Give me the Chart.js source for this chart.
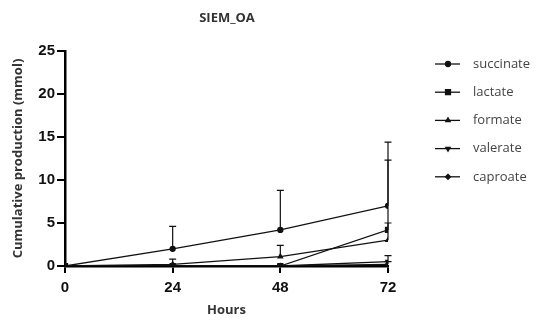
<!DOCTYPE html>
<html>
<head>
<meta charset="utf-8">
<script src="https://cdn.jsdelivr.net/npm/chart.js@4.4.0/dist/chart.umd.min.js"></script>
<style>
  html, body { margin: 0; padding: 0; background: #fff; }
  #wrap { width: 537px; height: 322px; }
</style>
</head>
<body>
<div id="wrap"><canvas id="chart"></canvas></div>
<script>
const hours = [0, 24, 48, 72];
const xTicks = [0, 24, 48, 72];

const succinate = [0, 2.0, 4.2, 7.0];
const succinateErr = [0, 2.6, 4.6, 7.4];
const lactate = [0, 0, 0, 4.2];
const lactateErr = [0, 0, 0, 8.1];
const formate = [0, 0.2, 1.1, 3.0];
const formateErr = [0, 0.6, 1.3, 2.0];
const valerate = [0, 0, 0, 0.5];
const valerateErr = [0, 0, 0, 0.7];
const caproate = [0, 0, 0, 0.2];
const caproateErr = [0, 0, 0, 0.3];

const labels = ['succinate', 'lactate', 'formate', 'valerate', 'caproate'];
const values = [succinate, lactate, formate, valerate, caproate];
const errors = [succinateErr, lactateErr, formateErr, valerateErr, caproateErr];
const styles = ['circle', 'rect', 'triangle', 'triangle', 'rectRot'];
const rotations = [0, 0, 0, 180, 0];

const ink = '#111';

const datasets = labels.map((name, i) => ({
    label: name,
    data: hours.map((h, j) => ({ x: h, y: values[i][j] })),
    errors: errors[i],
    borderColor: ink,
    backgroundColor: ink,
    borderWidth: 1.3,
    pointStyle: styles[i],
    rotation: rotations[i],
    pointRadius: i == 1 ? 3.5 : 2.5,
    tension: 0
}));

// upward error bars with caps
const errorBars = {
    id: 'errorBars',
    afterDatasetsDraw(chart) {
        const { ctx, scales: { x, y } } = chart;
        ctx.save();
        ctx.strokeStyle = ink;
        ctx.lineWidth = 1.2;
        chart.data.datasets.forEach(ds => {
            ds.data.forEach((p, j) => {
                const e = ds.errors[j];
                if (!e) return;
                const px = x.getPixelForValue(p.x);
                const py = y.getPixelForValue(p.y);
                const top = y.getPixelForValue(p.y + e);
                ctx.beginPath();
                ctx.moveTo(px, py);
                ctx.lineTo(px, top);
                ctx.moveTo(px - 3.5, top);
                ctx.lineTo(px + 3.5, top);
                ctx.stroke();
            });
        });
        ctx.restore();
    }
};

// title + legend with line + marker glyphs
const extras = {
    id: 'extras',
    afterDraw(chart) {
        const ctx = chart.ctx;
        ctx.save();
        ctx.fillStyle = '#333';
        ctx.font = 'bold 13px "Open Sans", sans-serif';
        ctx.textAlign = 'center';
        ctx.textBaseline = 'middle';
        ctx.fillText('SIEM_OA', 227, 18);

        ctx.textAlign = 'left';
        chart.data.datasets.forEach((ds, i) => {
            const yy = 64 + i * 28.2;
            ctx.strokeStyle = ink;
            ctx.lineWidth = 1.3;
            ctx.beginPath();
            ctx.moveTo(435, yy);
            ctx.lineTo(460, yy);
            ctx.stroke();
            ctx.fillStyle = ink;
            Chart.helpers.drawPoint(ctx, {
                pointStyle: ds.pointStyle,
                rotation: ds.rotation,
                radius: ds.pointRadius,
                borderWidth: 1
            }, 448, yy);
            ctx.fillStyle = '#444';
            ctx.font = '13px "Open Sans", sans-serif';
            ctx.fillText(ds.label, 473, yy);
        });
        ctx.restore();
    }
};

new Chart(document.getElementById('chart'), {
    type: 'line',
    data: { datasets },
    options: {
        responsive: true,
        maintainAspectRatio: false,
        animation: false,
        layout: { padding: { top: 51, right: 149, bottom: 0, left: 0 } },
        scales: {
            x: {
                type: 'linear',
                min: 0,
                max: 72,
                afterBuildTicks: s => { s.ticks = xTicks.map(v => ({ value: v })); },
                afterFit: s => { s.height = 56; },
                grid: { drawOnChartArea: false, drawTicks: true, tickLength: 7, color: '#000', lineWidth: 2 },
                border: { color: '#000', width: 2.5 },
                ticks: { color: '#111', font: { family: 'Liberation Sans', size: 15, weight: 'bold' }, padding: 6 },
                title: { display: true, text: 'Hours', color: '#333', font: { family: '"Open Sans"', size: 13, weight: 'bold' }, padding: { top: 8 } }
            },
            y: {
                min: 0,
                max: 25,
                afterFit: s => { s.width = 65; },
                grid: { drawOnChartArea: false, drawTicks: true, tickLength: 8, color: '#000', lineWidth: 2 },
                border: { color: '#000', width: 2.5 },
                ticks: { stepSize: 5, color: '#111', font: { family: 'Liberation Sans', size: 15, weight: 'bold' }, padding: 2 },
                title: { display: true, text: 'Cumulative production (mmol)', color: '#333', font: { family: '"Open Sans"', size: 13, weight: 'bold' }, padding: { top: 10, bottom: 4 } }
            }
        },
        plugins: {
            legend: { display: false },
            tooltip: { enabled: false },
            title: { display: false }
        }
    },
    plugins: [errorBars, extras]
});
</script>
</body>
</html>
